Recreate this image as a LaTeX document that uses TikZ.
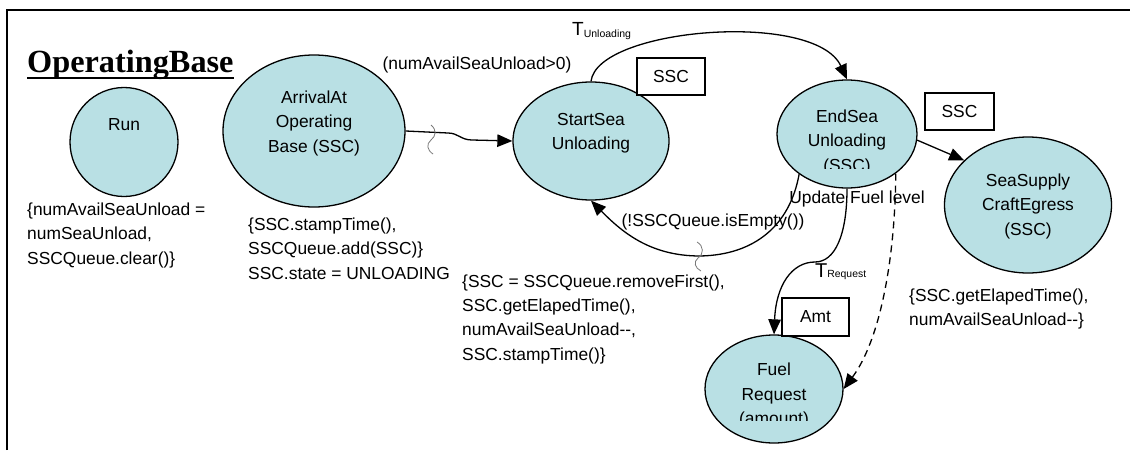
\documentclass[tikz,border=0pt]{standalone}
\usepackage{fontspec}
\setmainfont{Liberation Sans}
\newfontfamily\titlefont{Liberation Serif}
\usetikzlibrary{shapes.geometric,arrows.meta}
\definecolor{statefill}{RGB}{185,224,228}
\definecolor{squig}{RGB}{120,120,120}
\begin{document}
\begin{tikzpicture}[x=1pt,y=-1pt,
  state/.style={ellipse, draw, line width=1.3pt, fill=statefill, inner sep=0pt},
  txt/.style={font=\fontsize{17.4}{24.3}\selectfont, inner sep=0pt},
  ann/.style={txt, align=left, anchor=base west},
  ctext/.style={txt, align=center, anchor=base},
  tagbox/.style={draw, line width=1.2pt, fill=white, inner sep=0pt, font=\fontsize{17.4}{20}\selectfont},
  edge/.style={line width=1.3pt, -{Triangle[length=15pt,width=12.5pt]}},
  squiggle/.style={draw=squig, line width=0.8pt}
]
\useasboundingbox (0,0) rectangle (1130,450);
\draw[line width=1.6pt] (7,450) -- (7,10) -- (1130,10);

% title
\node[inner sep=0pt, anchor=base west, font=\titlefont\bfseries\fontsize{32.3}{32.3}\selectfont] (title) at (27,72) {OperatingBase};
\draw[line width=1.8pt] ([yshift=-6pt]title.base west) -- ([yshift=-6pt]title.base east);

% states
\node[state, minimum width=108pt, minimum height=109pt] (run) at (124,142) {};
\node[state, minimum width=182pt, minimum height=152pt] (arr) at (314,131) {};
\node[state, minimum width=156pt, minimum height=118pt] (ss) at (591,141) {};
\node[state, minimum width=140pt, minimum height=108pt] (es) at (847,134) {};
\node[state, minimum width=167pt, minimum height=136pt] (sup) at (1028,205) {};
\node[state, minimum width=138pt, minimum height=108pt] (fr) at (774,389) {};

% (multi-line nodes: base anchor = last line's baseline)
\node[ctext] (runT) at (124,130) {Run};
\node[ctext] (arrT) at (314,152) {ArrivalAt\\Operating\\Base (SSC)};
\node[ctext] (ssT) at (591,149.5) {StartSea\\Unloading};
\begin{scope}
  \clip (770,60) rectangle (925,168);
  \node[ctext] (esT) at (847,171) {EndSea\\Unloading\\(SSC)};
\end{scope}
\node[ctext] (supT) at (1028,235) {SeaSupply\\CraftEgress\\(SSC)};
\begin{scope}
  \clip (700,330) rectangle (850,420);
  \node[ctext] (frT) at (774,424.5) {Fuel\\Request\\(amount)};
\end{scope}

% annotations
\node[ann] (runA) at (27,264) {\{numAvailSeaUnload =\\numSeaUnload,\\SSCQueue.clear()\}};
\node[ann] (arrA) at (248,279) {\{SSC.stampTime(),\\SSCQueue.add(SSC)\}\\SSC.state = UNLOADING};
\node[ann] (ssA) at (462,360) {\{SSC = SSCQueue.removeFirst(),\\SSC.getElapedTime(),\\numAvailSeaUnload-{}-,\\SSC.stampTime()\}};
\node[ann] (supA) at (909,325.5) {\{SSC.getElapedTime(),\\numAvailSeaUnload-{}-\}};

% edge labels
\node[txt, anchor=base] (lblNum) at (477,69) {(numAvailSeaUnload>0)};
\node[txt, anchor=base] (lblEmpty) at (713,226) {(!SSCQueue.isEmpty())};
\node[txt, anchor=base] (lblFuel) at (857,203) {Update Fuel level};
\node[inner sep=0pt, anchor=base west] (lblTU) at (572,35) {\fontsize{19}{19}\selectfont T\raisebox{-2pt}{\fontsize{10.5}{10.5}\selectfont Unloading}};
\node[inner sep=0pt, anchor=base west] (lblTR) at (815,277) {\fontsize{20}{20}\selectfont T\fontsize{10.4}{10.4}\selectfont Request};

% edges
\draw[edge] (arr.east) -- (448,133) .. controls (458,133) and (461,140) .. (472,140) -- (ss.west);
\draw[squiggle] (431,125) .. controls (437,130) and (436,136) .. (431,140) .. controls (426,144) and (427,150) .. (433,154);
\draw[edge] (ss.north) .. controls (597,28) and (815,10) .. (es.north);
\draw[edge] (es.220) .. controls (790,225) and (755,255) .. (700,256) .. controls (650,256) and (622,232) .. (ss.south);
\draw[squiggle] (697,242) .. controls (704,246) and (704,254) .. (698,258) .. controls (693,262) and (695,268) .. (701,271);
\draw[edge] (es.south) .. controls (847,235) and (835,262) .. (815,262) .. controls (792,262) and (776,285) .. (fr.north);
\draw[edge, dash pattern=on 7pt off 5pt] (es.321) .. controls (895,260) and (880,340) .. (fr.east);
\draw[edge] (es.355) -- (sup.145);

% tags
\node[tagbox, minimum width=68pt, minimum height=37pt] (ssc1) at (671,76.5) {SSC};
\node[tagbox, minimum width=69pt, minimum height=37pt] (ssc2) at (959.5,111.5) {SSC};
\node[tagbox, minimum width=67pt, minimum height=38pt] (amt) at (815.5,317) {Amt};
\end{tikzpicture}
\end{document}
